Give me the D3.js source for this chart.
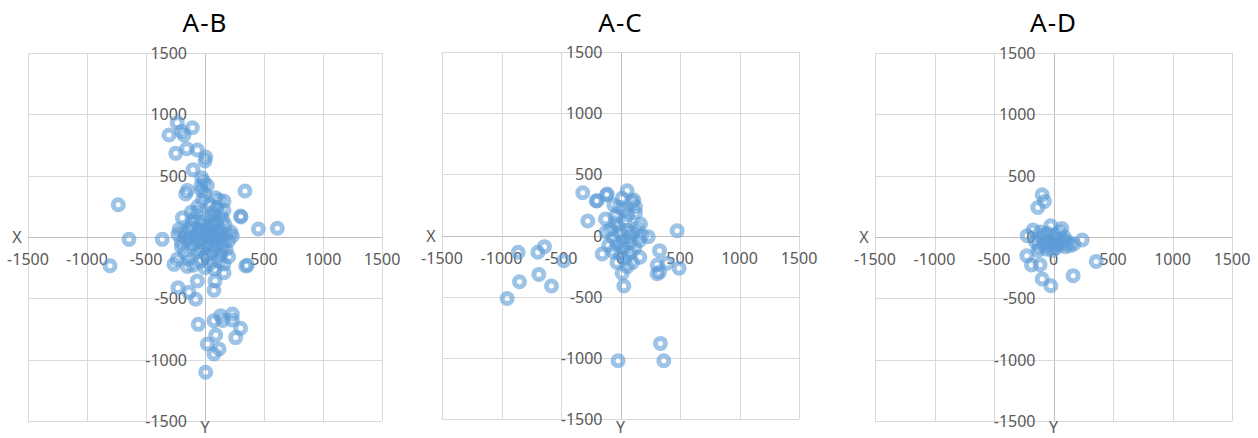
<!DOCTYPE html>
<html>
<head>
<meta charset="utf-8">
<script src="https://cdn.jsdelivr.net/npm/d3@7"></script>
<style>
  html, body { margin: 0; padding: 0; background: #fff; }
  svg { display: block; }
  text { font-family: "Noto Sans", "Open Sans", sans-serif; }
</style>
</head>
<body>
<svg id="chart" width="1258" height="438"></svg>
<script>
// ---- data ----
const titles = ["A-B", "A-C", "A-D"];
const tickValues = [-1500, -1000, -500, 0, 500, 1000, 1500];
const xAxisLabel = "X";
const yAxisLabel = "Y";

const abX = [-735, -644, -805, -362, 339, 452, 613, 305, 359, 232,
  -235, -107, -305, -178, -200, -248, -155, -65, 6, 0, -102, -28, -36, -10, -150, -164, 91, 161, 120, 161, -116, -192, -220, 302,
  -229, -65, -79, 85, 76, 161, -57, 133, 232, 232, 302, 260, 91, 76, 150, 20, 119, 76, 6, -263, -235, -136, 345,
  -180, -150, -120, -100, -90, -80, -60, -50, -40, -30, -20, -10, 0, 10, 20, 30, 40, 50, 60, 70, 80, 90, 100, 110, 120, 130, 140, 150, 170, 180, 200,
  -200, -170, -140, -110, -70, -60, -20, 0, 40, 60, 80, 100, 130, 150, -40, 0, 40, 80, 120, 160, 200, -100, -150, -200, -230, 220, 180, -30, 20, -60, 10, 50, -120, 90,
  -50, 30, -90, 70, 110, -20, 60, -130, 140, 0];
const abY = [263, -19, -234, -19, 375, 65, 71, 163, -231, 8,
  932, 891, 831, 831, 860, 682, 720, 709, 652, 620, 549, 483, 416, 450, 380, 350, 320, 293, 300, 217, 204, 157, 63, 171,
  -413, -358, -508, -358, -434, -291, -712, -641, -628, -677, -744, -820, -799, -682, -680, -872, -913, -954, -1103, -223, -182, -450, -236,
  40, -30, 80, -60, 150, 10, -120, 60, -40, 120, -90, 20, -10, 70, -50, 160, 0, -130, 90, -20, 40, -80, 120, -10, 60, -150, 0, -60, 100, -100, -30,
  -80, -130, -180, 120, 200, 250, 300, 350, 260, 200, 180, 240, 180, 140, -200, -250, -220, -260, -200, -220, -160, -230, -240, -40, 20, 40, 20, 380, 420, 30, -150, 40, -10, 10,
  -100, -70, -10, -110, 30, 50, 130, 60, -110, 90];

const acX = [-317, -118, -204, 56, 14, 112, 126, 126, -56, 28, -275, -126, -42, 168, 233, 476, -154, -28, 328, 308, 392, 493, 308, 328, 162, 56, 14, 28,
  -860, -695, -639, -476, -849, -686, -580, -952, 336, 364, -20,
  -196, -112, 98, -80, -60, -40, -20, 0, 20, 40, 60, 80, 100, 120, 140, -100, -60, 0, 40, 80, 100, -30, 60, 20, -120, 160, 180, -10, 70];
const acY = [350, 331, 282, 366, 304, 290, 235, 186, 249, 209, 119, 135, 104, 94, -10, 39, -151, -67, -124, -241, -227, -268, -313, -299, -178, -254, -308, -413,
  -137, -137, -91, -206, -378, -318, -413, -514, -882, -1024, -1024,
  285, 339, 276, 50, -20, 160, 80, 20, -40, 120, 40, -60, 20, -100, 60, -80, -130, -150, -190, -140, -220, -220, 170, -100, 30, -40, 0, 230, -10];

const adX = [-95, -76, -132, -23, 70, -171, -221, 171, 241, -224, -185, -113, -95, -23, 165, 359,
  -150, -120, -100, -80, -60, -40, -20, 0, 20, 40, 60, 80, 100, 120, -50, 10, -130, -10, 30, 90, -70, 140, -110, 50];
const adY = [345, 290, 241, 92, 70, 57, 11, -57, -24, -152, -228, -226, -342, -397, -315, -199,
  -40, -80, 0, -60, -100, -30, -70, -50, -90, -20, -60, -30, -80, -40, 30, 10, -110, -110, -60, 0, 20, -70, 40, 40];

const seriesX = [abX, acX, adX];
const seriesY = [abY, acY, adY];

// ---- layout ----
const panels = [
  {left: 28, right: 382, top: 53, bottom: 421},
  {left: 442, right: 799, top: 52, bottom: 419},
  {left: 875, right: 1232, top: 53, bottom: 421}
];

const svg = d3.select("#chart");
const gridColor = "#d9d9d9";
const axisColor = "#bfbfbf";
const labelColor = "#595959";

panels.forEach((p, i) => {
  const x = d3.scaleLinear().domain([-1500, 1500]).range([p.left, p.right]);
  const y = d3.scaleLinear().domain([-1500, 1500]).range([p.bottom, p.top]);
  const g = svg.append("g");

  // gridlines
  g.selectAll("line.vg").data(tickValues).join("line")
    .attr("x1", d => Math.round(x(d)) + 0.5).attr("x2", d => Math.round(x(d)) + 0.5)
    .attr("y1", p.top).attr("y2", p.bottom)
    .attr("stroke", d => d === 0 ? axisColor : gridColor).attr("stroke-width", 1);
  g.selectAll("line.hg").data(tickValues).join("line")
    .attr("y1", d => Math.round(y(d)) + 0.5).attr("y2", d => Math.round(y(d)) + 0.5)
    .attr("x1", p.left).attr("x2", p.right)
    .attr("stroke", d => d === 0 ? axisColor : gridColor).attr("stroke-width", 1);

  // x tick labels (below horizontal zero axis)
  g.selectAll("text.xt").data(tickValues).join("text")
    .attr("x", d => x(d)).attr("y", y(0) + 28)
    .attr("text-anchor", "middle").attr("font-size", 16).attr("fill", labelColor)
    .text(d => d3.format("d")(d).replace("−", "-"));

  // y tick labels (left of vertical zero axis)
  g.selectAll("text.yt").data(tickValues).join("text")
    .attr("x", x(0) - 18).attr("y", d => y(d) + 6)
    .attr("text-anchor", "end").attr("font-size", 16).attr("fill", labelColor)
    .text(d => d3.format("d")(d).replace("−", "-"));

  // axis names
  g.append("text").attr("x", p.left - 11).attr("y", y(0) + 6)
    .attr("text-anchor", "middle").attr("font-size", 16).attr("fill", labelColor)
    .text(xAxisLabel);
  g.append("text").attr("x", x(0)).attr("y", 433)
    .attr("text-anchor", "middle").attr("font-size", 16).attr("fill", labelColor)
    .text(yAxisLabel);

  // title
  g.append("text").attr("x", (p.left + p.right) / 2).attr("y", 32)
    .attr("text-anchor", "middle").attr("font-size", 26).attr("letter-spacing", 1).attr("fill", "#000")
    .text(titles[i]);

  // points
  const xs = seriesX[i], ys = seriesY[i];
  g.selectAll("circle").data(d3.range(xs.length)).join("circle")
    .attr("cx", k => x(xs[k])).attr("cy", k => y(ys[k]))
    .attr("r", 5)
    .attr("fill", "none")
    .attr("stroke", "#5B9BD5")
    .attr("stroke-opacity", 0.6)
    .attr("stroke-width", 5);
});
</script>
</body>
</html>
